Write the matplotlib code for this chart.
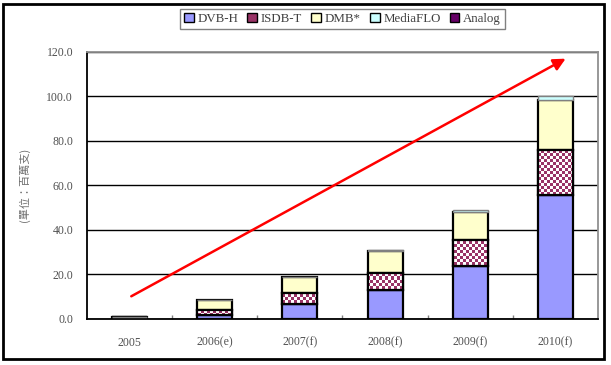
import matplotlib.pyplot as plt
import numpy as np
from matplotlib.patches import Patch, Rectangle

plt.rcParams['font.family'] = ['Liberation Serif', 'Noto Sans CJK TC', 'DejaVu Sans']

# datos (millones de unidades)
anios = ['2005', '2006(e)', '2007(f)', '2008(f)', '2009(f)', '2010(f)']
dvb_h = [0.6, 1.6, 6.5, 12.9, 23.8, 55.4]
isdb_t = [0.0, 2.2, 4.9, 7.5, 11.6, 20.6]
dmb = [0.0, 4.6, 7.3, 10.2, 12.5, 22.2]
mediaflo = [0.0, 0.0, 0.0, 0.3, 1.1, 1.9]
analog = [0.0, 0.0, 0.0, 0.0, 0.0, 0.0]

# flecha de tendencia (inicio y fin en coordenadas de datos)
flecha_ini = (0.02, 10.0)
flecha_fin = (5.12, 117.0)

fig = plt.figure(figsize=(6.11, 3.65), dpi=100)
ax = fig.add_axes([87 / 611, 1 - 318.5 / 365, 511 / 611, 266.5 / 365])

x = np.arange(len(anios))
ancho = 0.41
borde = dict(edgecolor='black', linewidth=1.6)

b1 = ax.bar(x, dvb_h, ancho, color='#9999FF', zorder=3, **borde)
base = np.array(dvb_h)
b2 = ax.bar(x, isdb_t, ancho, bottom=base, color='white', zorder=3, **borde)
base = base + np.array(isdb_t)
b3 = ax.bar(x, dmb, ancho, bottom=base, color='#FFFFCC', zorder=3, **borde)
base = base + np.array(dmb)
b4 = ax.bar(x, mediaflo, ancho, bottom=base, color='#CCFFFF', zorder=3,
            edgecolor='#808080', linewidth=1.0)
base = base + np.array(mediaflo)
b5 = ax.bar(x, analog, ancho, bottom=base, color='#660066', zorder=3, linewidth=0)

ax.set_xlim(-0.5, len(anios) - 0.5)
ax.set_ylim(0, 120)

# patron a cuadros para ISDB-T
nx, ny = 170, 89
tablero = (np.add.outer(np.arange(ny), np.arange(nx)) % 2).astype(float)
cmap = plt.matplotlib.colors.ListedColormap(['#993366', 'white'])
for barra in b2:
    if barra.get_height() <= 0:
        continue
    im = ax.imshow(tablero, cmap=cmap, extent=(-0.5, len(anios) - 0.5, 0, 120),
                   aspect='auto', interpolation='nearest', zorder=3.5)
    im.set_clip_path(barra)
    r = Rectangle(barra.get_xy(), barra.get_width(), barra.get_height(),
                  fill=False, zorder=3.6, **borde)
    ax.add_patch(r)

ax.set_yticks(np.arange(0, 121, 20))
ax.set_yticklabels([f'{v:.1f}' for v in np.arange(0, 121, 20)])
ax.yaxis.grid(True, color='black', linewidth=1.0, zorder=0)
ax.set_axisbelow(True)
ax.tick_params(axis='y', length=0, pad=10, labelsize=8.5, labelcolor='#505050')
ax.set_xticks(x)
ax.set_xticklabels(anios)
ax.tick_params(axis='x', length=0, pad=13, labelsize=8.5, labelcolor='#505050')
ax.set_xticks(np.arange(0.5, len(anios) - 1, 1), minor=True)
ax.tick_params(axis='x', which='minor', direction='in', length=3, color='#808080', width=1)

for lado in ['left', 'bottom']:
    ax.spines[lado].set_color('black')
    ax.spines[lado].set_linewidth(1.3)
for lado in ['top', 'right']:
    ax.spines[lado].set_color('#909090')
    ax.spines[lado].set_linewidth(1.3)

ax.set_ylabel('(單位：百萬支)', fontsize=8, color='#707070', labelpad=12,
              family=['Noto Sans CJK TC', 'DejaVu Sans'])

ax.annotate('', xy=flecha_fin, xytext=flecha_ini,
            arrowprops=dict(arrowstyle='-|>', color='red', lw=1.8,
                            mutation_scale=18, shrinkA=0, shrinkB=0), zorder=5)

manijas = [
    Patch(facecolor='#9999FF', edgecolor='black', label='DVB-H'),
    Patch(facecolor='#993366', edgecolor='black', label='ISDB-T'),
    Patch(facecolor='#FFFFCC', edgecolor='black', label='DMB*'),
    Patch(facecolor='#CCFFFF', edgecolor='black', label='MediaFLO'),
    Patch(facecolor='#660066', edgecolor='black', label='Analog'),
]
leg = fig.legend(handles=manijas, loc='center', bbox_to_anchor=(342.5 / 611, 1 - 19 / 365),
                 ncol=5, fontsize=9.3, frameon=True, fancybox=False, edgecolor='#606060',
                 handlelength=0.75, handleheight=0.75, handletextpad=0.3,
                 columnspacing=0.7, borderpad=0.3, labelcolor='#404040')
leg.get_frame().set_linewidth(1.0)

# marco exterior
fig.patches.append(Rectangle((3 / 611, 6 / 365), 601 / 611, 355 / 365, fill=False,
                             edgecolor='black', linewidth=2.0,
                             transform=fig.transFigure, figure=fig))

fig.savefig('out.png', dpi=100)
